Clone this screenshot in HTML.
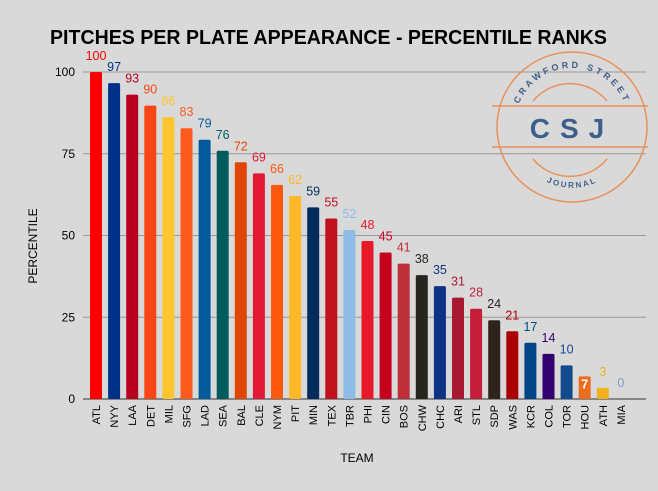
<!DOCTYPE html>
<html><head><meta charset="utf-8"><style>
html,body{margin:0;padding:0;background:#d9d9d9;}
svg{display:block;font-family:"Liberation Sans",Arial,sans-serif;}
</style></head><body>
<svg id="chart" width="658" height="491" viewBox="0 0 658 491">
<rect width="658" height="491" fill="#d9d9d9"/>
<text x="50" y="44" textLength="557" lengthAdjust="spacingAndGlyphs" font-size="20" font-weight="bold" fill="#000">PITCHES PER PLATE APPEARANCE - PERCENTILE RANKS</text>
<g id="grid"></g>
<g id="bars"></g>
<text transform="translate(37,246) rotate(-90)" text-anchor="middle" font-size="12" fill="#000">PERCENTILE</text>
<text x="357" y="462" text-anchor="middle" font-size="12" fill="#000">TEAM</text>
<g>
<circle cx="572" cy="127" r="75" fill="none" stroke="#e8915a" stroke-width="1.5"/>
<path d="M533,101 A48,48 0 0 1 607,101" fill="none" stroke="#e8915a" stroke-width="1.5"/>
<path d="M533,159 A48,48 0 0 0 607,159" fill="none" stroke="#e8915a" stroke-width="1.5"/>
<line x1="492" y1="106" x2="648" y2="106" stroke="#e8915a" stroke-width="1.5"/>
<line x1="492" y1="147" x2="648" y2="147" stroke="#e8915a" stroke-width="1.5"/>
<text x="572" y="138" text-anchor="middle" font-size="28" font-weight="bold" fill="#3d5f8c" letter-spacing="10">CSJ</text>
<path id="arcTop" d="M517,110 A57,57 0 0 1 627,110" fill="none"/>
<text font-size="9" font-weight="bold" fill="#3d5f8c" letter-spacing="3"><textPath href="#arcTop" startOffset="50%" text-anchor="middle">CRAWFORD STREET</textPath></text>
<path id="arcBot" d="M540,178 A57,57 0 0 0 604,178" fill="none"/>
<text font-size="8" font-weight="bold" fill="#3d5f8c" letter-spacing="2"><textPath href="#arcBot" startOffset="50%" text-anchor="middle">JOURNAL</textPath></text>
</g>
</svg>
<script>
const teams=["ATL","NYY","LAA","DET","MIL","SFG","LAD","SEA","BAL","CLE","NYM","PIT","MIN","TEX","TBR","PHI","CIN","BOS","CHW","CHC","ARI","STL","SDP","WAS","KCR","COL","TOR","HOU","ATH","MIA"];
const values=[100,96.6,93.1,89.7,86.2,82.8,79.3,75.9,72.4,69,65.5,62.1,58.6,55.2,51.7,48.3,44.8,41.4,37.9,34.5,31,27.6,24.1,20.7,17.2,13.8,10.3,6.9,3.4,0];
const colors=["#ff0000","#003087","#ba0021","#fa4616","#ffc52f","#fd5a1e","#005a9c","#005c5c","#df4601","#e31937","#ff5910","#fdb827","#002b5c","#c0111f","#8fbce6","#e81828","#c6011f","#bd3039","#27251f","#0e3386","#a71930","#c41e3a","#2f241d","#ab0003","#004687","#33006f","#134a8e","#eb6e1f","#efb21e","#7b9ec9"];
const yTicks=[0,25,50,75,100];
const NS="http://www.w3.org/2000/svg";
const x0=83,x1=646,yTop=72,yBot=399;
const y=v=>yBot-(v/100)*(yBot-yTop);
const step=18.1,firstC=96;
const xc=i=>firstC+i*step;
const grid=document.getElementById('grid'),bars=document.getElementById('bars');
yTicks.forEach(t=>{
 const l=document.createElementNS(NS,'line');
 
 
 l.setAttribute('x1',x0);l.setAttribute('x2',x1);l.setAttribute('y1',y(t));l.setAttribute('y2',y(t));
 l.setAttribute('stroke',t===0?'#333':'#999');l.setAttribute('stroke-width','1');
 grid.appendChild(l);
 const tx=document.createElementNS(NS,'text');
 
 
 tx.setAttribute('x',75);tx.setAttribute('y',y(t)+4);tx.setAttribute('text-anchor','end');tx.setAttribute('font-size','12');
 tx.textContent=t;grid.appendChild(tx);
});
teams.forEach((t,i)=>{
 const v=values[i],c=xc(i);
 const r=document.createElementNS(NS,'rect');
 
 
 r.setAttribute('x',c-6);r.setAttribute('width',12);r.setAttribute('y',y(v));r.setAttribute('height',Math.max(0,yBot-y(v)));
 r.setAttribute('rx',1.5);r.setAttribute('fill',colors[i]);
 bars.appendChild(r);
 const lb=document.createElementNS(NS,'text');
 
 
 const inside=(t==="HOU");
 lb.setAttribute('x',c);lb.setAttribute('y',inside?y(v)+12:y(v)-12);lb.setAttribute('text-anchor','middle');lb.setAttribute('font-size','12.5');
 lb.setAttribute('fill',inside?'#fff':colors[i]);if(inside)lb.setAttribute('font-weight','bold');
 lb.textContent=Math.round(v);bars.appendChild(lb);
 const xl=document.createElementNS(NS,'text');
 
 
 xl.setAttribute('transform','translate('+(c+4)+',405) rotate(-90)');xl.setAttribute('text-anchor','end');xl.setAttribute('font-size','11');
 xl.textContent=t;bars.appendChild(xl);
});
</script>
</body></html>
